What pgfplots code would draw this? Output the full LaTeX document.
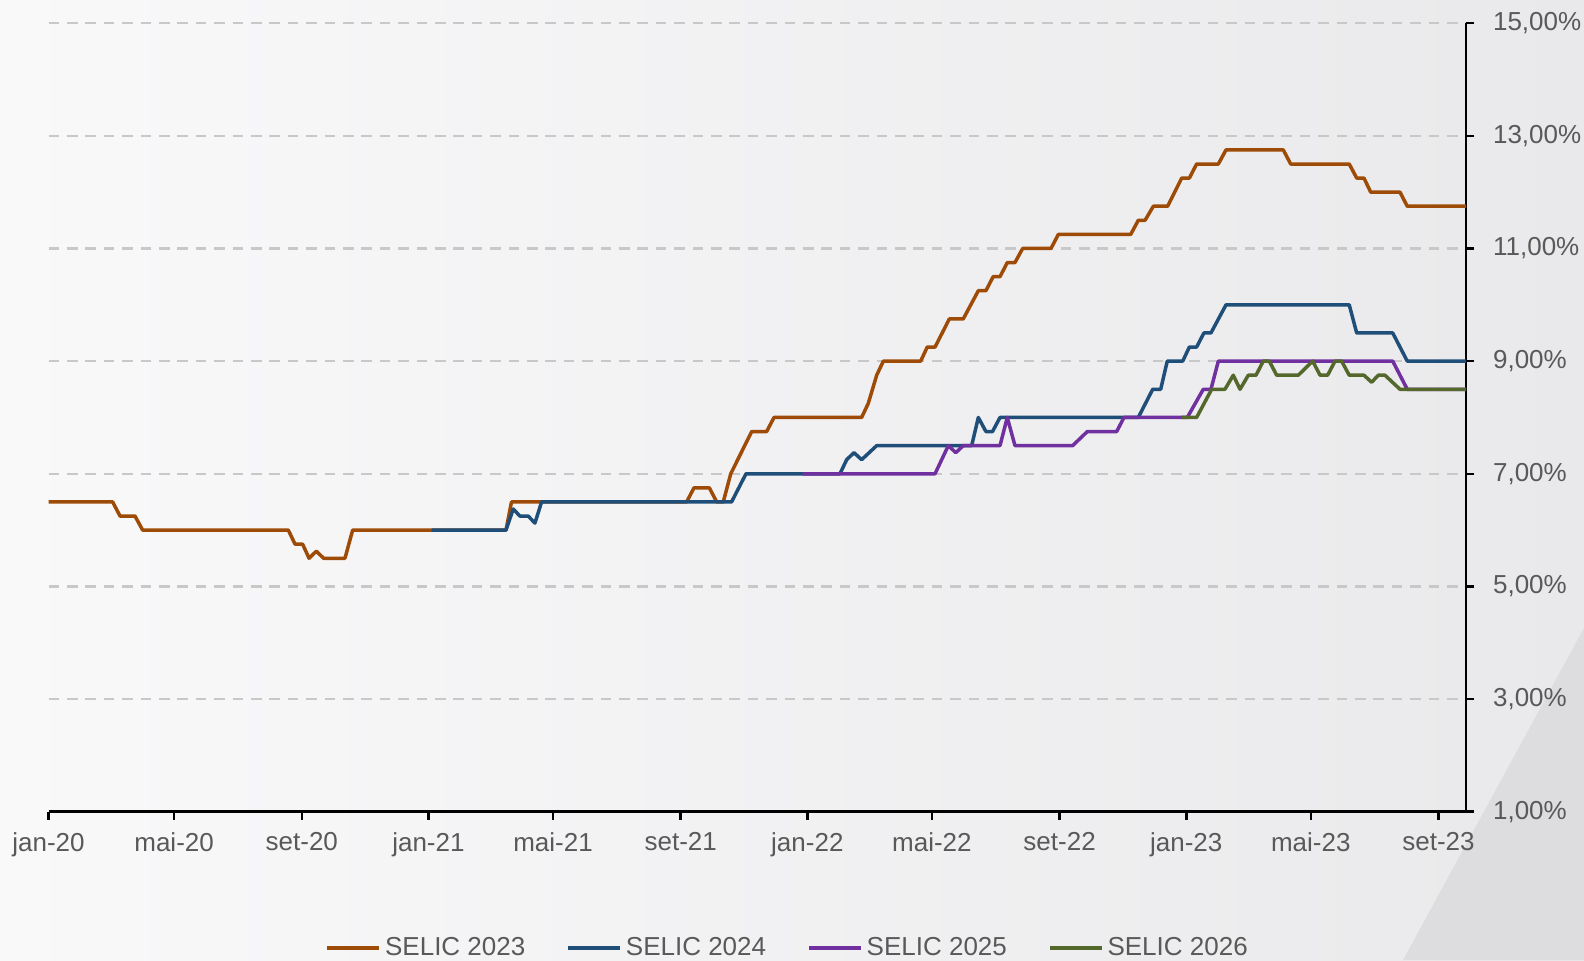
\documentclass[border=0pt]{standalone}
\usepackage{pgfplots}
\pgfplotsset{compat=1.18}
\usepackage{fontspec}
\setmainfont{Liberation Sans}
\definecolor{cOrange}{RGB}{158,75,8}
\definecolor{cBlue}{RGB}{31,78,121}
\definecolor{cPurple}{RGB}{112,48,160}
\definecolor{cGreen}{RGB}{84,104,44}
\definecolor{txt}{RGB}{89,89,89}
\definecolor{gridc}{RGB}{200,200,200}
\definecolor{bgl}{RGB}{249,249,250}
\definecolor{bgr}{RGB}{233,233,235}
\definecolor{bgd}{RGB}{221,221,223}
\begin{document}
\begin{tikzpicture}
\useasboundingbox (0,0) rectangle (792pt,480pt);
\shade[left color=bgl, right color=bgr] (0,0) rectangle (792pt,480pt);
\fill[bgd] (792pt,166pt) -- (792pt,0) -- (701.5pt,0) -- cycle;
\begin{axis}[
  at={(24.25pt,74.15pt)}, anchor=south west,
  scale only axis, width=708.75pt, height=394.25pt,
  xmin=0, xmax=1365.5, ymin=1, ymax=15,
  axis x line*=bottom, axis y line*=right,
  axis line style={line width=1.25pt, black},
  tick align=outside,
  major tick length=4pt,
  every tick/.style={line width=1.25pt, black},
  xtick={0,121,244,366,486,609,731,851,974,1096,1216,1339},
  xticklabels={jan-20,mai-20,set-20,jan-21,mai-21,set-21,jan-22,mai-22,set-22,jan-23,mai-23,set-23},
  ytick={1,3,5,7,9,11,13,15},
  yticklabels={{1,00\%},{3,00\%},{5,00\%},{7,00\%},{9,00\%},{11,00\%},{13,00\%},{15,00\%}},
  ymajorgrids,
  major grid style={line width=1.15pt, gridc, dash pattern=on 5.3pt off 3.9pt},
  tick label style={font=\fontsize{13}{15}\selectfont, text=txt},
  yticklabel style={anchor=west, xshift=6pt},
  xticklabel style={yshift=-3pt},
  legend columns=4,
  legend style={at={(0.5220,-0.173)}, anchor=center, draw=none, fill=none,
    font=\fontsize{13}{15}\selectfont, text=txt,
    /tikz/every even column/.append style={column sep=18.3pt},
    /tikz/every odd column/.append style={column sep=0pt}},
  legend image code/.code={\draw[#1, line width=2pt] (0pt,0pt) -- (26pt,0pt);},
  every axis plot/.append style={line width=1.75pt, line join=round},
]
\addplot[cOrange] coordinates {
(0,6.50) (61.8,6.50) (68.9,6.25) (83.3,6.25) (90.7,6.00) (231,6.00) (237.5,5.75) (244.8,5.75)
(251,5.50) (258,5.625) (265,5.50) (285.6,5.50) (293,6.00) (440.7,6.00) (446,6.50) (614.7,6.50)
(621.8,6.75) (636.6,6.75) (643.7,6.50) (650,6.50) (657.2,7.00) (677.4,7.75) (691.8,7.75) (698.9,8.00)
(783.3,8.00) (789.7,8.25) (797.8,8.75) (804.2,9.00) (840.2,9.00) (846.5,9.25) (854,9.25) (867.8,9.75)
(881.2,9.75) (895.7,10.25) (903,10.25) (910,10.50) (916.6,10.50) (923.6,10.75) (931,10.75) (938.4,11.00)
(965.7,11.00) (972.8,11.25) (1042.5,11.25) (1049.8,11.50) (1056.3,11.50) (1064.3,11.75) (1078.1,11.75)
(1091.6,12.25) (1099,12.25) (1106,12.50) (1126.9,12.50) (1134.3,12.75) (1189.5,12.75) (1196.6,12.50)
(1253,12.50) (1260.2,12.25) (1267.2,12.25) (1273.7,12.00) (1301.9,12.00) (1308.9,11.75) (1365.5,11.75)
};
\addlegendentry{SELIC 2023}
\addplot[cBlue] coordinates {
(369,6.00) (440.7,6.00) (447.7,6.375) (454,6.25) (462,6.25) (468.6,6.125) (475,6.50) (658,6.50)
(671.9,7.00) (762.4,7.00) (768.9,7.25) (775.9,7.375) (783.3,7.25) (797.8,7.50) (889.3,7.50)
(895.7,8.00) (903,7.75) (909.4,7.75) (916.6,8.00) (1049.8,8.00) (1063.7,8.50) (1071.4,8.50)
(1077.7,9.00) (1092.6,9.00) (1099,9.25) (1106,9.25) (1113,9.50) (1119.8,9.50) (1134.3,10.00)
(1253,10.00) (1260.2,9.50) (1294.9,9.50) (1308.9,9.00) (1365.5,9.00)
};
\addlegendentry{SELIC 2024}
\addplot[cPurple] coordinates {
(726.5,7.00) (854,7.00) (866.8,7.50) (874,7.375) (881.2,7.50) (916.6,7.50) (923.6,8.00) (931,7.50)
(986.6,7.50) (1000.7,7.75) (1029,7.75) (1036,8.00) (1097,8.00) (1112.4,8.50) (1119.8,8.50)
(1126.9,9.00) (1294.9,9.00) (1308.9,8.50) (1365.5,8.50)
};
\addlegendentry{SELIC 2025}
\addplot[cGreen] coordinates {
(1091.6,8.00) (1106,8.00) (1120.5,8.50) (1133.3,8.50) (1141.3,8.75) (1147.8,8.50) (1155.8,8.75)
(1163.2,8.75) (1170.2,9.00) (1176,9.00) (1183.1,8.75) (1203.9,8.75) (1217.8,9.00) (1224.9,8.75)
(1232.2,8.75) (1239.3,9.00) (1245.7,9.00) (1253,8.75) (1267.2,8.75) (1274.6,8.625) (1281,8.75)
(1287.4,8.75) (1301.9,8.50) (1365.5,8.50)
};
\addlegendentry{SELIC 2026}
\end{axis}
\end{tikzpicture}
\end{document}
